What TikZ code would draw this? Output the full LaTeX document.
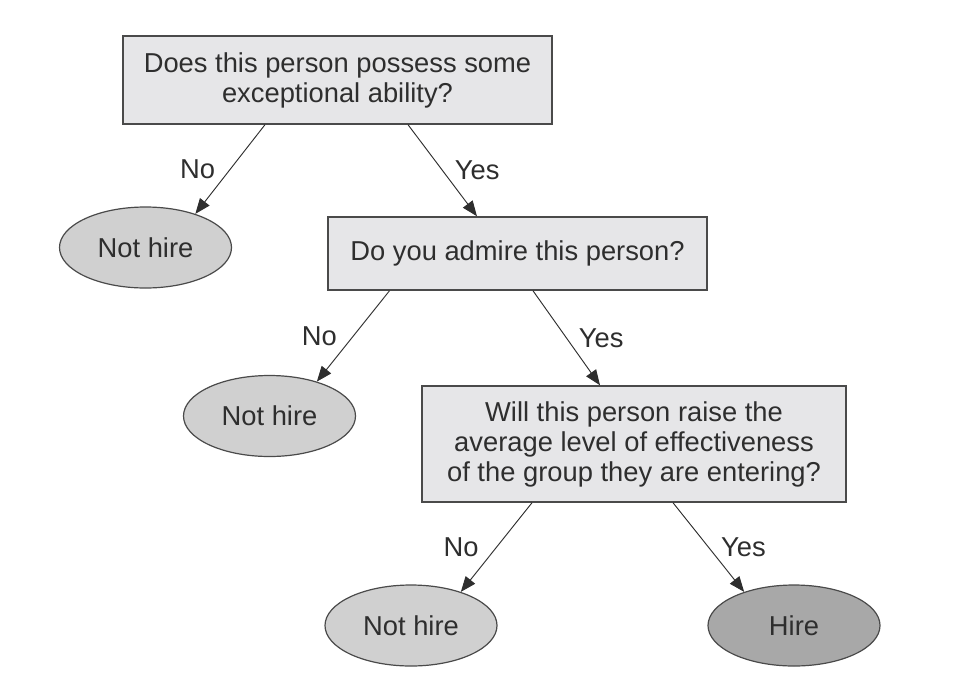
\documentclass[tikz,border=0pt]{standalone}
\usepackage{fontspec}
\setmainfont{Liberation Sans}
\usetikzlibrary{shapes.geometric, arrows.meta, positioning}
\definecolor{BoxFill}{HTML}{E6E6E8}
\definecolor{LeafFill}{HTML}{D0D0D0}
\definecolor{HireFill}{HTML}{A8A8A8}
\definecolor{EdgeGray}{HTML}{4A4A4A}
\definecolor{InkGray}{HTML}{2E2E2E}

\begin{document}
\begin{tikzpicture}[x=0.75pt, y=-0.75pt,
  every node/.style={font=\fontsize{20.5}{22.5}\selectfont, text=InkGray},
  question/.style={draw=EdgeGray, line width=1.1pt, fill=BoxFill, align=center, inner sep=0pt},
  leaf/.style={ellipse, draw=EdgeGray, line width=0.9pt, fill=LeafFill, inner sep=0pt,
    minimum width=129pt, minimum height=60.75pt},
  flow/.style={draw=InkGray, line width=0.7pt, -{Triangle[length=11.5pt, width=9pt]}},
  edgelabel/.style={midway, inner sep=0pt}]
\useasboundingbox (0,0) rectangle (962,696);
% --- Questions ---
\node[question, minimum width=321.75pt, minimum height=66pt] (ability) at (337.5,80)
  {Does this person possess some\\exceptional ability?};
\node[question, minimum width=284.25pt, minimum height=54.75pt] (admire) at (517.5,253.5)
  {Do you admire this person?};
\node[question, minimum width=318pt, minimum height=87pt] (raise) at (634,444)
  {Will this person raise the\\average level of effectiveness\\of the group they are entering?};
% --- Outcomes ---
\node[leaf] (nothireA) at (145.5,247.5) {Not hire};
\node[leaf] (nothireB) at (269.5,416) {Not hire};
\node[leaf] (nothireC) at (411,625.5) {Not hire};
\node[leaf, fill=HireFill] (hire) at (794,625.5) {Hire};
% --- Branches ---
\draw[flow] ([xshift=-54.4pt]ability.south) -- node[edgelabel, left=11pt] {No} (nothireA.34);
\draw[flow] ([xshift=52.9pt]ability.south) -- node[edgelabel, right=9pt] {Yes} ([xshift=-30.4pt]admire.north);
\draw[flow] ([xshift=-96pt]admire.south) -- node[edgelabel, left=12pt] {No} (nothireB.36);
\draw[flow] ([xshift=11.6pt]admire.south) -- node[edgelabel, right=9pt] {Yes} ([xshift=-25.5pt]raise.north);
\draw[flow] ([xshift=-76.5pt]raise.south) -- node[edgelabel, left=13pt] {No} (nothireC.34);
\draw[flow] ([xshift=29.25pt]raise.south) -- node[edgelabel, right=9pt] {Yes} (hire.146);
\end{tikzpicture}
\end{document}
